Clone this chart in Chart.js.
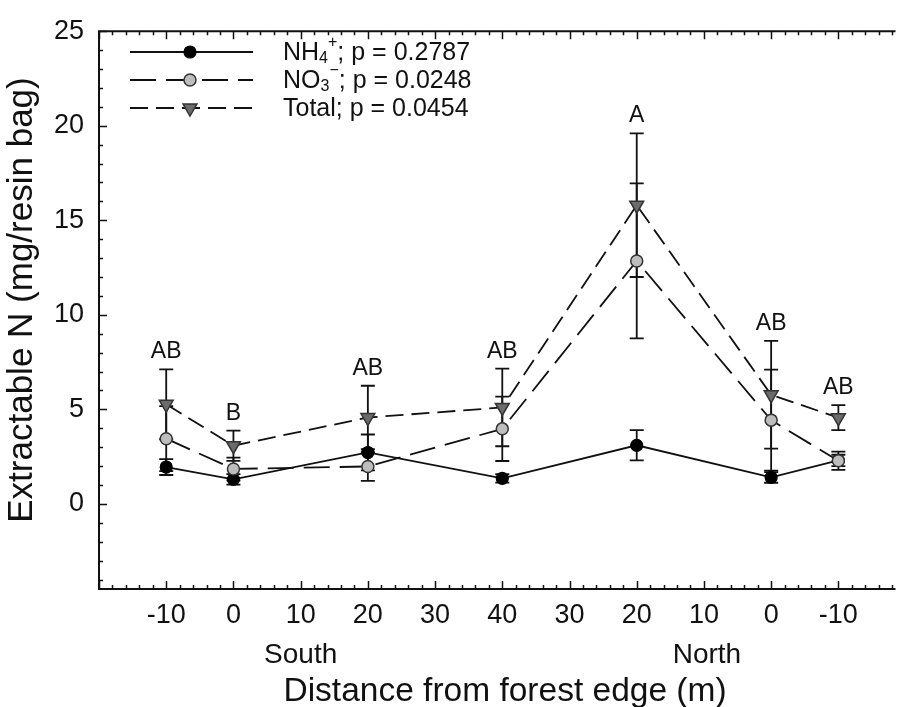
<!DOCTYPE html>
<html>
<head>
<meta charset="utf-8">
<script src="https://cdn.jsdelivr.net/npm/chart.js@4.4.1/dist/chart.umd.min.js"></script>
<style>
  html, body { margin: 0; padding: 0; background: #fff; overflow: hidden; }
</style>
</head>
<body>
<canvas id="chart" width="905" height="707"></canvas>
<script>
// positions along the transect: south -10..40, then north 30..-10 (as 50..90)
const xTickValues = [-10, 0, 10, 20, 30, 40, 50, 60, 70, 80, 90];
const xTickLabels = ['-10', '0', '10', '20', '30', '40', '30', '20', '10', '0', '-10'];
const yTickValues = [0, 5, 10, 15, 20, 25];

const sites = [-10, 0, 20, 40, 60, 80, 90];
const nh4 = [1.95, 1.3, 2.72, 1.35, 3.1, 1.4, 2.3];
const nh4Err = [0.42, 0.28, 0.95, 0.22, 0.8, 0.28, 0.3];
const no3 = [3.45, 1.85, 1.98, 3.97, 12.85, 4.43, 2.28];
const no3Err = [1.72, 0.6, 0.76, 1.7, 4.1, 2.67, 0.48];
const total = [5.27, 3.08, 4.57, 5.1, 15.8, 5.77, 4.56];
const totalErr = [1.85, 0.8, 1.68, 2.05, 3.8, 2.85, 0.66];
const letters = ['AB', 'B', 'AB', 'AB', 'A', 'AB', 'AB'];

const FONT = '"Liberation Sans", Arial, sans-serif';
const ink = '#111';

const series = [
  { mean: nh4, err: nh4Err },
  { mean: no3, err: no3Err },
  { mean: total, err: totalErr }
];

function pts(values) {
  return sites.map((s, i) => ({ x: s, y: values[i] }));
}

const nh4Style = {
  borderColor: ink, borderWidth: 1.8, borderDash: [],
  pointStyle: 'circle', pointRadius: 6, pointRotation: 0,
  pointBackgroundColor: '#000', pointBorderColor: '#000', pointBorderWidth: 1.2
};
const no3Style = {
  borderColor: ink, borderWidth: 1.8, borderDash: [26, 10],
  pointStyle: 'circle', pointRadius: 6, pointRotation: 0,
  pointBackgroundColor: '#bdbdbd', pointBorderColor: '#333', pointBorderWidth: 1.5
};
const totalStyle = {
  borderColor: ink, borderWidth: 1.8, borderDash: [18, 8],
  pointStyle: 'triangle', pointRadius: 8, pointRotation: 180,
  pointBackgroundColor: '#6b6b6b', pointBorderColor: '#333', pointBorderWidth: 1.5
};

// error bars under the lines and markers
const errorBars = {
  id: 'errorBars',
  beforeDatasetsDraw(chart) {
    const { ctx, scales: { x, y } } = chart;
    ctx.save();
    ctx.strokeStyle = ink;
    ctx.lineWidth = 1.8;
    series.forEach(s => {
      sites.forEach((site, i) => {
        const px = x.getPixelForValue(site);
        const hi = y.getPixelForValue(s.mean[i] + s.err[i]);
        const lo = y.getPixelForValue(s.mean[i] - s.err[i]);
        ctx.beginPath();
        ctx.moveTo(px, hi); ctx.lineTo(px, lo);
        ctx.moveTo(px - 7, hi); ctx.lineTo(px + 7, hi);
        ctx.moveTo(px - 7, lo); ctx.lineTo(px + 7, lo);
        ctx.stroke();
      });
    });
    ctx.restore();
  }
};

function drawScript(ctx, parts, x, y, size) {
  // parts: [text, 'n'|'sub'|'sup']
  parts.forEach(([t, kind]) => {
    if (kind === 'n') {
      ctx.font = size + 'px ' + FONT;
      ctx.fillText(t, x, y);
      x += ctx.measureText(t).width;
    } else {
      const s = Math.round(size * 0.62);
      ctx.font = s + 'px ' + FONT;
      ctx.fillText(t, x, y + (kind === 'sub' ? size * 0.22 : -size * 0.42));
      x += ctx.measureText(t).width;
    }
  });
}

const decorations = {
  id: 'decorations',
  afterDatasetsDraw(chart) {
    const { ctx, chartArea: a, scales: { x, y } } = chart;
    ctx.save();
    ctx.fillStyle = ink;

    // significance letters above the Total bars
    ctx.font = '23px ' + FONT;
    ctx.textAlign = 'center';
    ctx.textBaseline = 'alphabetic';
    sites.forEach((site, i) => {
      ctx.fillText(letters[i], x.getPixelForValue(site), y.getPixelForValue(total[i] + totalErr[i]) - 11);
    });

    // frame (left, top, bottom) with inward ticks
    ctx.strokeStyle = ink;
    ctx.lineWidth = 2;
    ctx.beginPath();
    ctx.moveTo(a.right, a.top); ctx.lineTo(a.left, a.top);
    ctx.lineTo(a.left, a.bottom); ctx.lineTo(a.right, a.bottom);
    ctx.stroke();
    ctx.lineWidth = 1.5;
    ctx.beginPath();
    for (let v = -4; v <= 25; v++) {
      const py = Math.round(y.getPixelForValue(v)) + 0.5;
      const len = v % 5 === 0 ? 8 : 4;
      ctx.moveTo(a.left, py); ctx.lineTo(a.left + len, py);
    }
    for (let v = -20; v <= x.max; v += 2) {
      const px = Math.round(x.getPixelForValue(v)) + 0.5;
      const len = v % 10 === 0 ? 8 : 4;
      ctx.moveTo(px, a.bottom); ctx.lineTo(px, a.bottom - len);
      ctx.moveTo(px, a.top); ctx.lineTo(px, a.top + len);
    }
    ctx.stroke();

    // legend
    const rows = [
      { style: nh4Style, parts: [['NH', 'n'], ['4', 'sub'], ['+', 'sup'], ['; p = 0.2787', 'n']] },
      { style: no3Style, parts: [['NO', 'n'], ['3', 'sub'], ['\u2212', 'sup'], ['; p = 0.0248', 'n']] },
      { style: totalStyle, parts: [['Total; p = 0.0454', 'n']] }
    ];
    rows.forEach((r, k) => {
      const ly = 52 + k * 28;
      ctx.strokeStyle = ink;
      ctx.lineWidth = r.style.borderWidth;
      ctx.setLineDash(r.style.borderDash);
      ctx.beginPath();
      ctx.moveTo(130, ly); ctx.lineTo(253, ly);
      ctx.stroke();
      ctx.setLineDash([]);
      ctx.fillStyle = r.style.pointBackgroundColor;
      ctx.strokeStyle = r.style.pointBorderColor;
      ctx.lineWidth = r.style.pointBorderWidth;
      Chart.helpers.drawPoint(ctx, {
        pointStyle: r.style.pointStyle, radius: r.style.pointRadius,
        rotation: r.style.pointRotation, borderWidth: r.style.pointBorderWidth
      }, 190, ly);
      ctx.fillStyle = ink;
      ctx.textAlign = 'left';
      ctx.textBaseline = 'middle';
      drawScript(ctx, r.parts, 283, ly + 1, 25);
    });

    // region labels and axis titles
    ctx.fillStyle = ink;
    ctx.textAlign = 'center';
    ctx.textBaseline = 'alphabetic';
    ctx.font = '28px ' + FONT;
    ctx.fillText('South', x.getPixelForValue(10), 663);
    ctx.fillText('North', x.getPixelForValue(70) + 3, 663);
    ctx.font = '33.5px ' + FONT;
    ctx.fillText('Distance from forest edge (m)', 505, 701);
    ctx.translate(32, 300);
    ctx.rotate(-Math.PI / 2);
    ctx.font = '35px ' + FONT;
    ctx.fillText('Extractable N (mg/resin bag)', 0, 0);
    ctx.restore();
  }
};

const datasetFrom = (label, values, style, order) => Object.assign({
  label, data: pts(values), order, fill: false, tension: 0,
  showLine: true, pointHoverRadius: style.pointRadius
}, style);

new Chart(document.getElementById('chart'), {
  type: 'scatter',
  data: {
    datasets: [
      datasetFrom('NH4+', nh4, nh4Style, 2),
      datasetFrom('NO3-', no3, no3Style, 0),
      datasetFrom('Total', total, totalStyle, 1)
    ]
  },
  options: {
    responsive: false,
    animation: false,
    events: [],
    layout: { padding: { top: 16, right: 0, left: 0, bottom: 0 } },
    plugins: { legend: { display: false }, tooltip: { enabled: false } },
    scales: {
      x: {
        type: 'linear', min: -20, max: 98.5,
        grid: { display: false, drawTicks: false },
        border: { display: false },
        afterBuildTicks: s => { s.ticks = xTickValues.map(v => ({ value: v })); },
        afterFit: s => { s.height = 118; },
        ticks: {
          autoSkip: false, maxRotation: 0, padding: 10, color: ink,
          font: { family: FONT, size: 27 },
          callback: v => xTickLabels[xTickValues.indexOf(v)]
        }
      },
      y: {
        min: -4.5, max: 25,
        grid: { display: false, drawTicks: false },
        border: { display: false },
        afterBuildTicks: s => { s.ticks = yTickValues.map(v => ({ value: v })); },
        afterFit: s => { s.width = 99; },
        ticks: { padding: 15, color: ink, font: { family: FONT, size: 27 } }
      }
    }
  },
  plugins: [errorBars, decorations]
});
</script>
</body>
</html>
